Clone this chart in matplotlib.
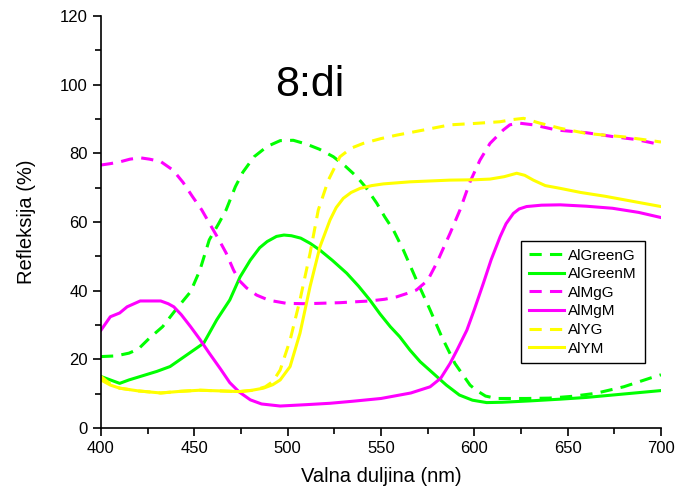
import matplotlib
matplotlib.use("Agg")
import matplotlib.pyplot as plt
from matplotlib.ticker import MultipleLocator

plt.rcParams['font.family'] = ['Liberation Sans', 'DejaVu Sans']

# AlGreenG (dashed green)
green_g_x = [400, 408, 415, 420, 426, 433, 440, 448, 453, 458, 463, 467, 472, 476, 482, 489, 496, 503, 510, 517,
             524.5, 531, 537, 542, 547.7, 552, 556.6, 562, 569, 576.3, 582.5, 589.6, 597.7, 601, 606, 612, 628, 640,
             652, 665, 680, 694, 700]
green_g_y = [20.8, 21.0, 21.8, 23.0, 26.2, 29.5, 34.4, 39.7, 46.0, 54.8, 59.5, 63.5, 70.3, 74.5, 79.0, 82.0, 83.7,
             83.8, 82.7, 81.2, 79.0, 76.2, 73.2, 70.0, 65.5, 61.5, 57.7, 51.8, 43.1, 34.4, 26.6, 18.8, 12.5, 11.0, 9.3,
             8.6, 8.6, 8.7, 9.2, 10.1, 12.0, 14.5, 15.5]

# AlGreenM (solid green)
green_m_x = [400, 405, 410, 415, 421, 430, 437, 446, 455, 462, 469, 474.5, 480, 485, 489, 494, 498, 502, 507, 512,
             517.3, 524, 531.6, 538, 544, 549.5, 555, 560, 565.5, 571, 578, 585, 592, 599, 606.6, 615, 630, 646, 660,
             680, 700]
green_m_y = [15.0, 14.0, 13.0, 14.0, 15.0, 16.5, 17.9, 21.3, 24.7, 31.5, 37.3, 44.0, 48.9, 52.5, 54.3, 55.8, 56.2,
             56.0, 55.3, 53.8, 51.8, 48.8, 45.1, 41.3, 37.3, 33.2, 29.5, 26.6, 22.7, 19.3, 15.9, 12.5, 9.6, 8.1, 7.4,
             7.5, 7.9, 8.4, 8.9, 9.9, 10.9]

# AlMgG (dashed magenta)
mg_g_x = [400, 405, 410, 415.5, 421, 426, 432, 438.6, 444, 449, 454, 458, 463, 467, 471, 474, 478, 483.4, 490, 499.5,
          510, 528, 544, 552, 558.4, 564, 569, 575, 579.8, 587, 592.3, 597.7, 603, 608.4, 615.5, 619, 624, 631.6, 644,
          660, 674, 687, 700]
mg_g_y = [76.6, 77.0, 77.5, 78.3, 78.7, 78.3, 77.6, 75.1, 71.5, 67.4, 63.5, 59.7, 55.0, 51.0, 46.0, 43.0, 40.8, 38.7,
          37.2, 36.3, 36.2, 36.5, 37.0, 37.5, 38.2, 39.2, 40.2, 43.0, 48.0, 56.7, 63.5, 71.7, 78.0, 82.9, 86.8, 88.3,
          88.8, 88.3, 86.8, 86.0, 84.9, 84.0, 82.5]

# AlMgM (solid magenta)
mg_m_x = [400, 405, 410, 414, 421, 427, 432, 436, 439, 443, 448, 453, 458, 464, 469, 474, 480, 486, 496, 510, 522.7,
          535, 550, 560, 566, 576.3, 582, 587, 591, 596, 600, 604.8, 609, 613.8, 617, 620.9, 624, 628, 636, 646, 660,
          674, 688, 700]
mg_m_y = [28.5, 32.4, 33.5, 35.3, 37.0, 37.0, 37.0, 36.2, 35.3, 33.0, 29.5, 25.8, 21.8, 17.2, 13.2, 10.5, 8.2, 7.0,
          6.4, 6.8, 7.2, 7.8, 8.6, 9.6, 10.2, 12.0, 14.5, 18.8, 23.0, 28.5, 34.5, 42.1, 49.0, 55.7, 59.5, 62.5, 63.8,
          64.5, 64.9, 65.0, 64.6, 64.0, 62.8, 61.3]

# AlYG (dashed yellow)
y_g_x = [400, 405, 410, 420, 432, 443, 453, 464, 474, 482, 488, 492, 496, 501.3, 506.6, 512, 516.4, 521.8, 528, 534,
         540.5, 550, 558.4, 570, 587, 600, 613.8, 620, 626.4, 635, 646, 660, 680, 700]
y_g_y = [15.0, 12.8, 11.6, 10.8, 10.2, 10.7, 11.0, 10.8, 10.6, 11.0, 12.0, 13.5, 16.9, 25.6, 37.3, 50.9, 63.5, 72.2,
         79.0, 81.5, 82.9, 84.3, 85.3, 86.5, 88.3, 88.7, 89.2, 89.8, 90.2, 88.8, 87.3, 85.8, 84.8, 83.3]

# AlYM (solid yellow)
y_m_x = [400, 405, 410, 420, 432, 443, 453, 464, 474, 481, 487, 492, 496, 501.3, 506.6, 512, 517.3, 522.7, 526, 529.8,
         534, 538.8, 545, 551.3, 565.5, 587, 600, 608.4, 616, 622.7, 627, 631.6, 638, 646, 657, 670, 685, 700]
y_m_y = [14.0, 12.5, 11.6, 10.8, 10.2, 10.7, 11.0, 10.8, 10.6, 11.0, 11.6, 12.6, 14.0, 17.9, 27.6, 41.2, 52.8, 60.6,
         64.2, 66.9, 68.6, 69.8, 70.6, 71.1, 71.7, 72.2, 72.3, 72.5, 73.2, 74.2, 73.6, 72.2, 70.6, 69.8, 68.6, 67.5,
         66.0, 64.5]

series = [
    ("AlGreenG", green_g_x, green_g_y, "#00FF00", "--"),
    ("AlGreenM", green_m_x, green_m_y, "#00FF00", "-"),
    ("AlMgG", mg_g_x, mg_g_y, "#FF00FF", "--"),
    ("AlMgM", mg_m_x, mg_m_y, "#FF00FF", "-"),
    ("AlYG", y_g_x, y_g_y, "#FFFF00", "--"),
    ("AlYM", y_m_x, y_m_y, "#FFFF00", "-"),
]

fig = plt.figure(figsize=(6.77, 4.95), dpi=100)
ax = fig.add_axes([101/677, 67/495, 560/677, 412/495])

for name, xs, ys, c, ls in series:
    if ls == "--":
        ax.plot(xs, ys, color=c, lw=2.2, linestyle=(0, (4, 2.7)), label=name)
    else:
        ax.plot(xs, ys, color=c, lw=2.2, label=name)

ax.set_xlim(400, 700)
ax.set_ylim(0, 120)
ax.xaxis.set_major_locator(MultipleLocator(50))
ax.xaxis.set_minor_locator(MultipleLocator(25))
ax.yaxis.set_major_locator(MultipleLocator(20))
ax.yaxis.set_minor_locator(MultipleLocator(10))
ax.tick_params(which='major', direction='out', length=6, width=1.2, labelsize=12)
ax.tick_params(which='minor', direction='out', length=4, width=1.2)
for s in ['top', 'right']:
    ax.spines[s].set_visible(False)
for s in ['left', 'bottom']:
    ax.spines[s].set_linewidth(1.2)

ax.set_xlabel("Valna duljina (nm)", fontsize=14.5, labelpad=8)
ax.set_ylabel("Refleksija (%)", fontsize=14.5, labelpad=17)

ax.text(512, 96.7, "8:di", fontsize=31, ha='center', va='baseline')

leg = ax.legend(loc='upper left', bbox_to_anchor=(0.75, 0.454), borderaxespad=0,
                fontsize=11, fancybox=False, edgecolor='black', framealpha=1,
                handlelength=2.3, labelspacing=0.3, borderpad=0.5, handletextpad=0.3)
leg.get_frame().set_linewidth(1.0)

fig.savefig("out.png", dpi=100)
